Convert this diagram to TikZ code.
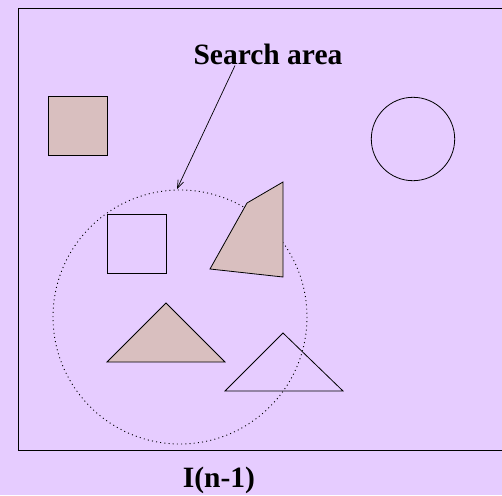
\documentclass[tikz,border=0pt]{standalone}
\usepackage{fontspec}
\setmainfont{Liberation Serif}
\usepackage{tikz}
\usetikzlibrary{arrows.meta,positioning,calc}
\usepackage{xcolor}
\definecolor{backdrop}{HTML}{E6CCFF}
\definecolor{tan}{HTML}{D9BFBF}
\tikzset{
  outline/.style={draw=black,line width=0.8pt,line join=miter},
  solid shape/.style={outline,fill=tan},
  hollow shape/.style={outline},
  search zone/.style={draw=black,line width=0.9pt,dash pattern=on 1pt off 3.2pt},
  pointer/.style={-{Straight Barb[length=8pt,width=6pt]},draw=black,line width=0.7pt},
  caption/.style={font=\fontsize{29.5}{34}\selectfont\bfseries,inner sep=1pt}
}

\begin{document}
\begin{tikzpicture}[x=1pt,y=-1pt]
  % page and frame
  \fill[backdrop] (0,0) rectangle (502,495);
  \useasboundingbox (0,0) rectangle (502,495);
  \draw[outline] (506,8) -- (18,8) -- (18,450) -- (506,450);
  % search area, under the objects
  \draw[search zone] (180,317) circle (127);
  \coordinate (rim) at (177,189);
  % objects
  \draw[solid shape] (48,96) rectangle (107,155);
  \draw[hollow shape] (413,139) circle (41.7);
  \draw[hollow shape] (107,214) rectangle (166,273);
  \draw[solid shape] (247,203) -- (283,182) -- (283,277) -- (210,269) -- cycle;
  \draw[solid shape] (107,362) -- (166,303) -- (225,362) -- cycle;
  \draw[hollow shape] (225,391) -- (283,333) -- (343,391) -- cycle;
  % labels
  \node[caption] (search) at (268,54) {Search area};
  \draw[pointer] ([xshift=-33pt]search.south) -- (rim);
  \node[caption] (frame label) at (219,480) {I(n-1)};
\end{tikzpicture}
\end{document}
